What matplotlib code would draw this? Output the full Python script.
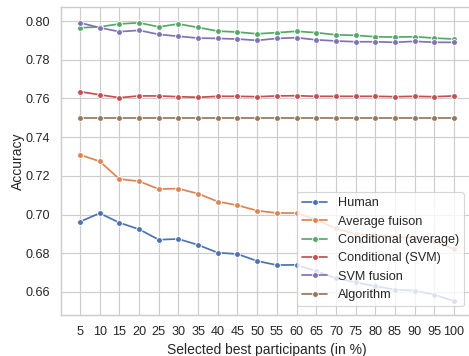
import matplotlib
matplotlib.use("Agg")
import seaborn as sns
from matplotlib import pyplot as plt

# selected best participants (in %)
percent = [5, 10, 15, 20, 25, 30, 35, 40, 45, 50, 55, 60, 65, 70, 75, 80, 85, 90, 95, 100]

human = [0.6963, 0.7007, 0.6958, 0.6924, 0.6870, 0.6874, 0.6843, 0.6803, 0.6796, 0.6760,
         0.6739, 0.6740, 0.6708, 0.6671, 0.6650, 0.6630, 0.6612, 0.6607, 0.6586, 0.6553]
avg_fusion = [0.7309, 0.7275, 0.7184, 0.7172, 0.7132, 0.7134, 0.7108, 0.7067, 0.7048, 0.7020,
              0.7008, 0.7008, 0.6972, 0.6929, 0.6898, 0.6895, 0.6886, 0.6878, 0.6865, 0.6820]
cond_avg = [0.7965, 0.7970, 0.7985, 0.7991, 0.7970, 0.7985, 0.7967, 0.7948, 0.7943, 0.7934,
            0.7940, 0.7947, 0.7940, 0.7929, 0.7926, 0.7919, 0.7917, 0.7919, 0.7912, 0.7907]
cond_svm = [0.7635, 0.7619, 0.7604, 0.7613, 0.7613, 0.7609, 0.7606, 0.7611, 0.7611, 0.7609,
            0.7613, 0.7614, 0.7611, 0.7611, 0.7611, 0.7611, 0.7609, 0.7611, 0.7609, 0.7613]
svm_fusion = [0.7991, 0.7966, 0.7945, 0.7952, 0.7931, 0.7921, 0.7912, 0.7910, 0.7907, 0.7900,
              0.7910, 0.7914, 0.7903, 0.7897, 0.7893, 0.7893, 0.7890, 0.7895, 0.7890, 0.7890]
algorithm = [0.75] * 20

series = [
    ("Human", human),
    ("Average fuison", avg_fusion),
    ("Conditional (average)", cond_avg),
    ("Conditional (SVM)", cond_svm),
    ("SVM fusion", svm_fusion),
    ("Algorithm", algorithm),
]

sns.set_theme(style="whitegrid")
plt.rcParams['font.family'] = ['Liberation Sans', 'DejaVu Sans']

colors = sns.color_palette("deep")

DPI = 83
fig = plt.figure(figsize=(469 / DPI, 356 / DPI), dpi=DPI)
ax = fig.add_axes([61.3 / 469, 41 / 356, 411.4 / 469, 307.7 / 356])

for (name, vals), c in zip(series, colors):
    ax.plot(percent, vals, color=c, marker='o', markersize=5,
            markeredgecolor='white', markeredgewidth=0.75, linewidth=1.5, label=name)

ax.set_xticks(percent)
ax.set_xlim(0.25, 104.75)
ax.set_ylim(0.6481, 0.8071)
ax.set_xlabel("Selected best participants (in %)")
ax.set_ylabel("Accuracy", labelpad=1)
ax.legend(loc='lower right', borderaxespad=0.7)

plt.savefig("out.png", dpi=DPI)
